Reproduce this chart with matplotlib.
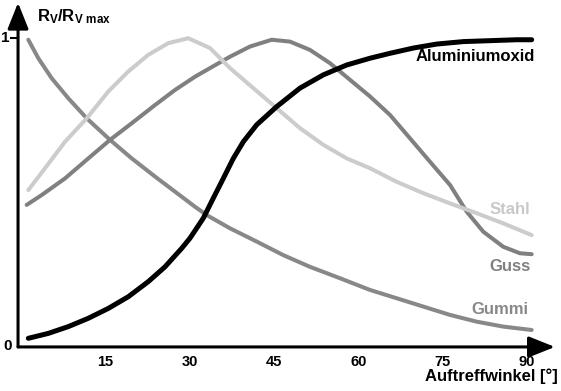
import matplotlib.pyplot as plt

plt.rcParams['font.family'] = ['Liberation Sans', 'DejaVu Sans']
plt.rcParams['mathtext.fontset'] = 'custom'
plt.rcParams['mathtext.bf'] = 'Liberation Sans:bold'
plt.rcParams['mathtext.rm'] = 'Liberation Sans'

# values (Auftreffwinkel in degrees, Rv/Rv max)
alu_x = [1.30, 4.86, 8.42, 11.98, 15.53, 19.09, 22.65, 25.62, 28.59, 30.07, 32.44, 34.22, 36.00, 37.78,
         39.56, 41.94, 45.50, 49.64, 53.79, 57.95, 62.10, 65.66, 69.80, 73.97, 78.70, 83.45, 88.20, 90.87]
alu_y = [0.025, 0.041, 0.063, 0.090, 0.122, 0.160, 0.209, 0.257, 0.317, 0.350, 0.415, 0.480, 0.544, 0.609,
         0.663, 0.718, 0.777, 0.837, 0.880, 0.912, 0.934, 0.950, 0.967, 0.980, 0.988, 0.991, 0.994, 0.994]

stahl_x = [1.30, 4.27, 7.83, 11.69, 15.53, 19.09, 22.65, 26.21, 29.77, 33.63, 37.19, 41.33, 45.50, 49.64,
           53.79, 57.95, 62.10, 66.85, 71.58, 76.33, 81.09, 85.82, 90.87]
stahl_y = [0.506, 0.577, 0.663, 0.739, 0.826, 0.891, 0.945, 0.983, 0.999, 0.967, 0.902, 0.837, 0.772, 0.707,
           0.653, 0.609, 0.577, 0.533, 0.496, 0.463, 0.431, 0.398, 0.360]

guss_x = [1.01, 3.68, 7.83, 11.98, 15.84, 19.70, 23.84, 27.40, 30.96, 33.63, 37.19, 40.75, 44.61, 47.86,
          51.42, 54.98, 58.54, 62.10, 65.66, 69.22, 72.78, 76.33, 79.31, 82.26, 85.82, 88.79, 90.87]
guss_y = [0.458, 0.490, 0.544, 0.609, 0.669, 0.723, 0.782, 0.831, 0.874, 0.902, 0.939, 0.972, 0.994, 0.988,
          0.961, 0.918, 0.864, 0.810, 0.750, 0.674, 0.598, 0.523, 0.436, 0.371, 0.322, 0.301, 0.298]

gummi_x = [1.30, 3.08, 5.46, 8.42, 11.69, 15.84, 19.70, 23.84, 27.40, 30.96, 33.04, 37.19, 41.94, 46.67,
           51.42, 56.76, 62.10, 66.85, 71.58, 76.33, 81.09, 85.82, 90.87]
gummi_y = [0.994, 0.934, 0.869, 0.804, 0.739, 0.669, 0.609, 0.550, 0.501, 0.452, 0.425, 0.382, 0.339, 0.295,
           0.257, 0.220, 0.182, 0.155, 0.128, 0.101, 0.079, 0.063, 0.052]

ticks = [15, 30, 45, 60, 75, 90]


def main():
    fig = plt.figure(figsize=(5.61, 3.91), dpi=100)
    ax = fig.add_axes([0, 0, 1, 1])
    ax.set_xlim(-3.74, 96.09)
    ax.set_ylim(-0.146, 1.123)
    ax.axis('off')

    # curves
    style = dict(solid_capstyle='round', solid_joinstyle='round')
    ax.plot(gummi_x, gummi_y, color='#888888', lw=2.9, **style)
    ax.plot(guss_x, guss_y, color='#808080', lw=2.9, **style)
    ax.plot(stahl_x, stahl_y, color='#cccccc', lw=2.9, **style)
    ax.plot(alu_x, alu_y, color='black', lw=3.6, **style)

    # axes with arrows
    arrow = dict(arrowstyle='-|>,head_length=0.8,head_width=0.32', lw=2.2, color='black',
                 mutation_scale=20, shrinkA=0, shrinkB=0)
    ax.annotate('', xy=(-0.53, 1.114), xytext=(-0.53, -0.003), arrowprops=arrow)
    ax.annotate('', xy=(95.0, -0.003), xytext=(-0.53, -0.003), arrowprops=arrow)
    ax.plot([-1.8, -0.53], [1.0, 1.0], color='black', lw=1.5)

    ax.text(-2.0, 1.0, '1', ha='right', va='center', fontsize=11, fontweight='bold')
    ax.text(-1.6, 0.0, '0', ha='right', va='center', fontsize=11, fontweight='bold')
    for t in ticks:
        ax.text(t, -0.052, str(t), ha='center', va='center', fontsize=10.5, fontweight='bold')

    ax.text(95.6, -0.098, 'Auftreffwinkel [°]', ha='right', va='center', fontsize=12, fontweight='bold')
    ax.text(2.9, 1.07, r'$\mathbf{R_V/R_{V\ max}}$', ha='left', va='center', fontsize=12)

    ax.text(91.5, 0.939, 'Aluminiumoxid', ha='right', va='center', fontsize=12, fontweight='bold', color='black')
    ax.text(90.6, 0.442, 'Stahl', ha='right', va='center', fontsize=12, fontweight='bold', color='#c8c8c8')
    ax.text(90.7, 0.257, 'Guss', ha='right', va='center', fontsize=12, fontweight='bold', color='#808080')
    ax.text(90.2, 0.117, 'Gummi', ha='right', va='center', fontsize=12, fontweight='bold', color='#888888')

    fig.savefig('out.png', dpi=100)


if __name__ == "__main__":
    main()
